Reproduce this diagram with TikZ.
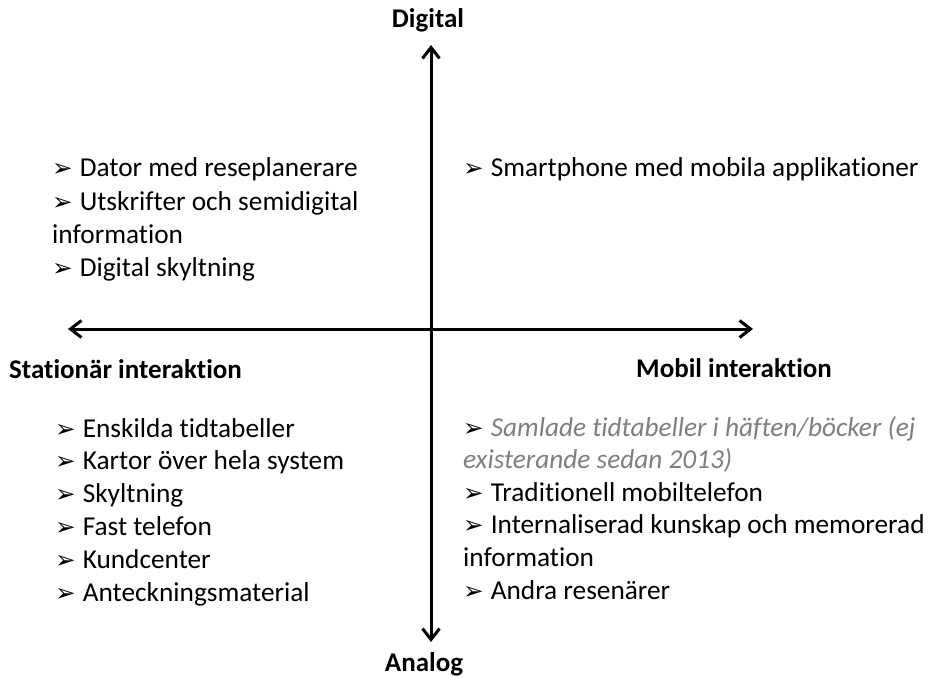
\documentclass[tikz,border=0pt]{standalone}
\usepackage{fontspec}
\setmainfont{Carlito}[Ligatures=NoCommon]
\newfontfamily\bulfont[Scale=0.9]{DejaVu Sans}
\usetikzlibrary{arrows.meta}
\definecolor{greytxt}{HTML}{7F7F7F}
\newcommand\bul{{\color{black}\bulfont ➢}\hspace{7pt}}
\tikzset{
  txt/.style={anchor=base west, inner sep=0pt, font=\fontsize{27.3}{32}\selectfont},
  ttl/.style={inner sep=0pt, font=\fontsize{27}{32}\selectfont\bfseries},
  axtip/.tip={Straight Barb[length=11pt,width=17pt,line width=3pt]},
  axis/.style={line width=3pt, axtip-axtip}
}
\begin{document}
\begin{tikzpicture}[x=1pt,y=-1pt]
\useasboundingbox[fill=white] (0,0) rectangle (928,679);
% axes
\coordinate (vt) at (431,45);
\coordinate (vb) at (431,642);
\coordinate (hl) at (68,329);
\coordinate (hr) at (753,329);
\draw[axis] (vt) -- (vb);
\draw[axis] (hl) -- (hr);
% titles
\node[ttl, anchor=base] (dig) at (428,28) {Digital};
\node[ttl, anchor=base] (ana) at (424,671) {Analog};
\node[ttl, anchor=base west] (sta) at (9,378) {Stationär interaktion};
\node[ttl, anchor=base west] (mob) at (636,377) {Mobil interaktion};
% top left
\node[txt] (tl1) at (52,177) {\bul Dator med reseplanerare};
\node[txt] (tl2) at (52,210) {\bul Utskrifter och semidigital};
\node[txt] (tl3) at (52,243) {information};
\node[txt] (tl4) at (52,276) {\bul Digital skyltning};
% top right
\node[txt] (tr1) at (463,177) {\bul Smartphone med mobila applikationer};
% bottom left
\node[txt] (bl1) at (55,437) {\bul Enskilda tidtabeller};
\node[txt] (bl2) at (55,469.8) {\bul Kartor över hela system};
\node[txt] (bl3) at (55,502.6) {\bul Skyltning};
\node[txt] (bl4) at (55,535.4) {\bul Fast telefon};
\node[txt] (bl5) at (55,568.2) {\bul Kundcenter};
\node[txt] (bl6) at (55,601) {\bul Anteckningsmaterial};
% bottom right
\node[txt] (br1) at (463,436) {\bul{\color{greytxt}\itshape Samlade tidtabeller i häften/böcker (ej}};
\node[txt] (br2) at (463,468.6) {{\color{greytxt}\itshape existerande sedan 2013)}};
\node[txt] (br3) at (463,501.2) {\bul Traditionell mobiltelefon};
\node[txt] (br4) at (463,533.8) {\bul Internaliserad kunskap och memorerad};
\node[txt] (br5) at (463,566.4) {information};
\node[txt] (br6) at (463,599) {\bul Andra resenärer};
\end{tikzpicture}
\end{document}
